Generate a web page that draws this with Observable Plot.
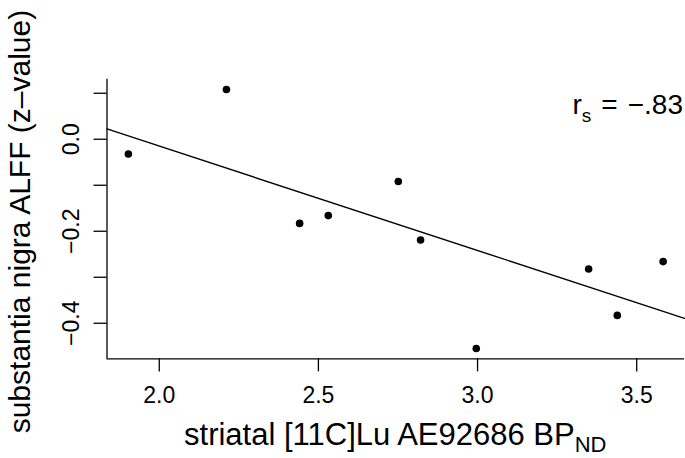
<!DOCTYPE html>
<html><head><meta charset="utf-8">
<script src="https://cdn.jsdelivr.net/npm/d3@7"></script>
<script src="https://cdn.jsdelivr.net/npm/@observablehq/plot@0.6"></script>
<style>html,body{margin:0;padding:0;background:#fff}#chart svg{display:block}</style>
</head><body><div id="chart"></div>
<script>
// Data
const bpND = [1.903, 2.211, 2.441, 2.531, 2.751, 2.821, 2.996, 3.349, 3.439, 3.583];
const alff = [-0.032, 0.108, -0.183, -0.166, -0.092, -0.219, -0.455, -0.282, -0.383, -0.266];
const xTicks = [2.0, 2.5, 3.0, 3.5];
const yTicks = [0.1, 0.0, -0.1, -0.2, -0.3, -0.4];
const yLabelTicks = [0.0, -0.2, -0.4];
const xTitle = "striatal [11C]Lu AE92686 BP";
const xTitleSub = "ND";
const yTitle = "substantia nigra ALFF (z\u2013value)";
const corrLabel = "r";
const corrSub = "s";
const corrEq = "=";
const corrValue = "\u2212.83";

const points = bpND.map((x, i) => ({x, y: alff[i]}));

// R-style 4% axis expansion
function expand(vals) {
  const [a, b] = d3.extent(vals);
  const p = (b - a) * 0.04;
  return [a - p, b + p];
}
const xDomain = expand(bpND);
const yDomain = expand(alff);

// ordinary least squares fit (abline)
const mx = d3.mean(bpND), my = d3.mean(alff);
const sxy = d3.sum(bpND, (x, i) => (x - mx) * (alff[i] - my));
const sxx = d3.sum(bpND, x => (x - mx) ** 2);
const slope = sxy / sxx;
const intercept = my - slope * mx;
const fit = xDomain.map(x => ({x, y: intercept + slope * x}));

const fmt = d3.format(".1f");
const font = "'Liberation Sans', Arial, Helvetica, sans-serif";

const chart = Plot.plot({
  width: 685,
  height: 458,
  marginLeft: 106.5,
  marginRight: 1,
  marginTop: 78.7,
  marginBottom: 99.6,
  style: {fontFamily: font, background: "white", color: "black"},
  x: {domain: xDomain},
  y: {domain: yDomain},
  marks: [
    Plot.axisX({ticks: xTicks, tickSize: 13, tickPadding: 15, fontSize: 23, tickFormat: fmt, label: null, strokeWidth: 1.3}),
    Plot.axisY({ticks: yTicks, tickSize: 13, tickFormat: () => "", label: null, strokeWidth: 1.3}),
    Plot.axisY({ticks: yLabelTicks, tickSize: 0, tickPadding: 28.5, tickRotate: -90, fontSize: 23, tickFormat: fmt, label: null}),
    Plot.ruleX([xDomain[0]], {stroke: "black", strokeWidth: 1.3}),
    Plot.ruleY([yDomain[0]], {stroke: "black", strokeWidth: 1.3}),
    Plot.line(fit, {x: "x", y: "y", stroke: "black", strokeWidth: 1.4}),
    Plot.dot(points, {x: "x", y: "y", r: 3.8, fill: "black", stroke: "none"})
  ]
});
document.getElementById("chart").appendChild(chart);

const svg = d3.select(chart);
const xs = chart.scale("x"), ys = chart.scale("y");
const cx = (xs.apply(xDomain[0]) + xs.apply(xDomain[1])) / 2;
const cy = (ys.apply(yDomain[0]) + ys.apply(yDomain[1])) / 2;

const xt = svg.append("text")
  .attr("x", cx).attr("y", 445)
  .attr("text-anchor", "middle")
  .attr("font-family", font).attr("font-size", 31).attr("fill", "black");
xt.append("tspan").text(xTitle);
xt.append("tspan").attr("font-size", 22).attr("dy", 7).text(xTitleSub);

svg.append("text")
  .attr("transform", `translate(30,${cy + 3}) rotate(-90)`)
  .attr("text-anchor", "middle")
  .attr("font-family", font).attr("font-size", 30).attr("fill", "black")
  .text(yTitle);

const rt = svg.append("text")
  .attr("x", 683).attr("y", 114)
  .attr("text-anchor", "end")
  .attr("font-family", font).attr("font-size", 28).attr("fill", "black");
rt.append("tspan").text(corrLabel);
rt.append("tspan").attr("font-size", 19).attr("dy", 7.5).text(corrSub);
rt.append("tspan").attr("dy", -7.5).attr("dx", 10).text(corrEq);
rt.append("tspan").attr("dx", 10).text(corrValue);
</script>
</body></html>
